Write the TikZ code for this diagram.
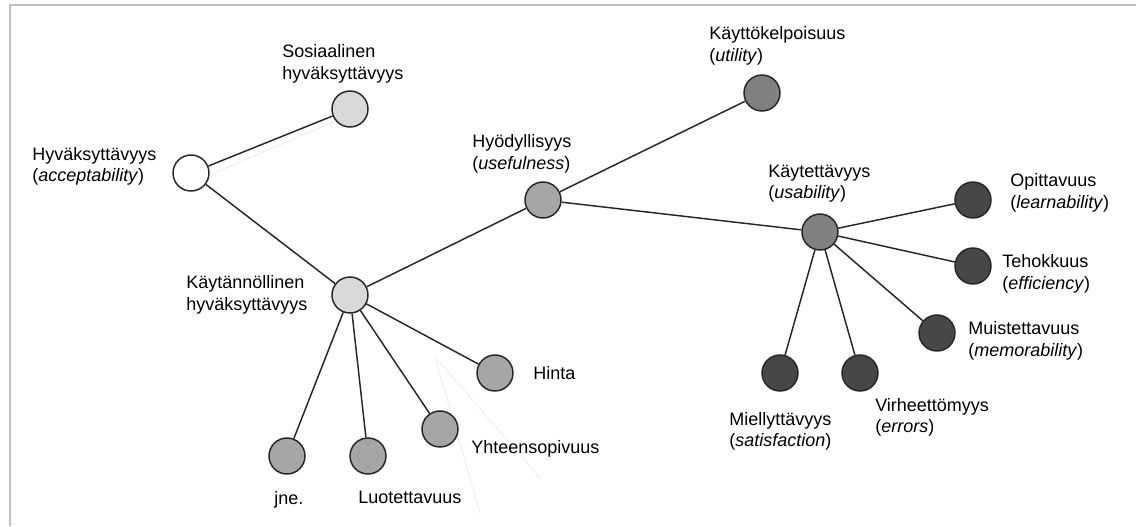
\documentclass[tikz,border=0pt]{standalone}
\usepackage{fontspec}
\setmainfont{Liberation Sans}
\begin{document}
\begin{tikzpicture}[x=0.75pt,y=-0.75pt,
  dot/.style={circle,draw=black!85,line width=1.1pt,minimum size=27pt,inner sep=0pt},
  c0/.style={dot,fill=white},
  c1/.style={dot,fill=black!15},
  c2/.style={dot,fill=black!35},
  c3/.style={dot,fill=black!50},
  c4/.style={dot,fill=black!72},
  lbl/.style={anchor=west,inner sep=0pt,align=left,font=\fontsize{13.5}{16}\selectfont},
  conn/.style={line width=1.1pt,black!85},
  ghost/.style={line width=0.6pt,blue!30!black!8}]
\useasboundingbox (0,0) rectangle (1136,526);
% frame
\coordinate (ftl) at (10,5);
\coordinate (ftr) at (1136,5);
\coordinate (fbl) at (10,526);
\draw[black!25,line width=1.1pt] (fbl) -- (ftl) -- (ftr);
% faint stray lines
\coordinate (g1a) at (212,174);
\coordinate (g1b) at (333,122);
\coordinate (g2a) at (435,357);
\coordinate (g2b) at (480,513);
\coordinate (g3a) at (437,359);
\coordinate (g3b) at (540,478);
\draw[ghost] (g1a) -- (g1b);
\draw[ghost] (g2a) -- (g2b);
\draw[ghost] (g3a) -- (g3b);
% nodes
\node[c0] (hyv) at (191,173) {};
\node[c1] (sos) at (350,109) {};
\node[c1] (kay) at (350,295) {};
\node[c2] (hyo) at (543,200) {};
\node[c3] (kkp) at (762,93) {};
\node[c3] (ktv) at (820,232) {};
\node[c4] (opi) at (973,200) {};
\node[c4] (teh) at (973,266) {};
\node[c4] (mui) at (937,333) {};
\node[c4] (mie) at (780,373) {};
\node[c4] (vir) at (860,373) {};
\node[c2] (hin) at (495,373) {};
\node[c2] (yht) at (440,429) {};
\node[c2] (luo) at (368,456) {};
\node[c2] (jne) at (287,456) {};
% connectors
\draw[conn] (hyv) -- (sos);
\draw[conn] (hyv) -- (kay);
\draw[conn] (kay) -- (hyo);
\draw[conn] (hyo) -- (kkp);
\draw[conn] (hyo) -- (ktv);
\draw[conn] (kay) -- (hin);
\draw[conn] (kay) -- (yht);
\draw[conn] (kay) -- (luo);
\draw[conn] (kay) -- (jne);
\draw[conn] (ktv) -- (opi);
\draw[conn] (ktv) -- (teh);
\draw[conn] (ktv) -- (mui);
\draw[conn] (ktv) -- (vir);
\draw[conn] (ktv) -- (mie);
% labels
\node[lbl] (Lsos) at (282,64) {Sosiaalinen\\hyväksyttävyys};
\node[lbl] (Lhyv) at (32,166.5) {Hyväksyttävyys\\(\textit{acceptability})};
\node[lbl] (Lkkp) at (709,46) {Käyttökelpoisuus\\(\textit{utility})};
\node[lbl] (Lhyo) at (472,154) {Hyödyllisyys\\(\textit{usefulness})};
\node[lbl] (Lktv) at (768,184) {Käytettävyys\\(\textit{usability})};
\node[lbl] (Lopi) at (1010,193) {Opittavuus\\(\textit{learnability})};
\node[lbl] (Lteh) at (1002,274) {Tehokkuus\\(\textit{efficiency})};
\node[lbl] (Lmui) at (968,341) {Muistettavuus\\(\textit{memorability})};
\node[lbl] (Lmie) at (729,431) {Miellyttävyys\\(\textit{satisfaction})};
\node[lbl] (Lvir) at (875,417) {Virheettömyys\\(\textit{errors})};
\node[lbl] (Lkay) at (186,295) {Käytännöllinen\\hyväksyttävyys};
\node[lbl] (Lhin) at (533,373) {Hinta};
\node[lbl] (Lyht) at (471,449) {Yhteensopivuus};
\node[lbl] (Lluo) at (358,497) {Luotettavuus};
\node[lbl] (Ljne) at (274,500) {jne.};
\end{tikzpicture}
\end{document}
